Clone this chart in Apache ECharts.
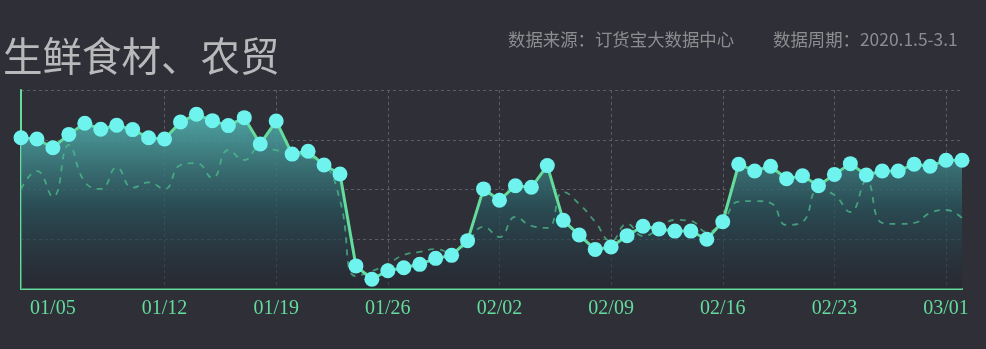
<!DOCTYPE html>
<html><head><meta charset="utf-8">
<script src="https://cdn.jsdelivr.net/npm/echarts@6/dist/echarts.min.js"></script>
<style>html,body{margin:0;padding:0;background:#2f2f38;}#c{width:986px;height:349px;}</style>
</head><body><div id="c"></div>
<script>
const dates = ["01/03","01/04","01/05","01/06","01/07","01/08","01/09","01/10","01/11","01/12",
"01/13","01/14","01/15","01/16","01/17","01/18","01/19","01/20","01/21","01/22",
"01/23","01/24","01/25","01/26","01/27","01/28","01/29","01/30","01/31","02/01",
"02/02","02/03","02/04","02/05","02/06","02/07","02/08","02/09","02/10","02/11",
"02/12","02/13","02/14","02/15","02/16","02/17","02/18","02/19","02/20","02/21",
"02/22","02/23","02/24","02/25","02/26","02/27","02/28","02/29","03/01","03/02"];
const current = [76.0,75.4,71.0,77.7,83.3,80.3,82.3,80.1,76.0,75.4,
83.9,87.8,84.6,82.1,86.1,72.9,84.4,67.8,69.2,62.3,
57.8,11.6,4.9,9.2,10.7,12.4,15.4,16.9,24.3,50.3,
44.6,51.9,51.1,62.0,34.5,27.1,19.9,21.1,26.8,31.5,
30.2,29.1,29.1,25.0,33.8,62.7,59.3,61.7,55.4,56.9,
51.9,57.6,63.0,57.3,59.3,59.3,62.7,61.7,64.7,64.7];
const previous = [50.3,59.3,46.4,72.4,53.8,50.3,61.0,50.9,53.6,50.3,
62.3,63.3,55.8,69.8,64.8,71.4,69.8,68.3,66.3,63.3,
44.7,6.5,9.0,12.6,17.1,18.6,20.1,18.1,23.6,31.2,
26.1,36.2,31.7,30.7,48.7,42.7,33.7,24.1,32.7,26.6,
30.2,34.7,34.2,28.6,34.2,43.9,44.2,43.2,32.2,33.8,
49.7,47.2,38.7,54.3,33.2,32.7,33.2,38.2,39.7,35.7];
const titleText = '生鲜食材、农贸';
const sourceText = '数据来源：订货宝大数据中心';
const periodText = '数据周期：2020.1.5-3.1';

const chart = echarts.init(document.getElementById('c'), null, {renderer:'canvas'});
const green = '#64dc9c';
chart.setOption({
  backgroundColor: '#2f2f38',
  animation: false,
  title: [
    {text: titleText, left: 3, top: 36, padding: 0,
     textStyle: {fontSize: 39.5, fontWeight: 'normal', color: '#b9b9bb', fontFamily: 'Noto Sans CJK SC'}},
    {text: sourceText, left: 508, top: 31, padding: 0,
     textStyle: {fontSize: 17.4, fontWeight: 'normal', color: '#8d8d90', fontFamily: 'Noto Sans CJK SC'}},
    {text: periodText, left: 773, top: 31, padding: 0,
     textStyle: {fontSize: 17.4, fontWeight: 'normal', color: '#8d8d90', fontFamily: 'Noto Sans CJK SC'}}
  ],
  grid: {left: 21, right: 24, top: 90, bottom: 60, containLabel: false},
  xAxis: {
    type: 'category', data: dates, boundaryGap: false,
    axisLine: {show: true, lineStyle: {color: green, width: 2}},
    axisTick: {show: false},
    axisLabel: {
      interval: function (i) { return i % 7 === 2; },
      color: green, fontSize: 20, fontFamily: 'Liberation Serif', margin: 10
    },
    splitLine: {
      show: true,
      interval: function (i) { return i % 7 === 2 && i > 2; },
      lineStyle: {color: '#5c5c64', type: [3, 3], width: 1}
    }
  },
  yAxis: {
    type: 'value', min: 0, max: 100, interval: 25,
    axisLine: {show: true, lineStyle: {color: green, width: 2}},
    axisTick: {show: false},
    axisLabel: {show: false},
    splitLine: {show: true, lineStyle: {color: '#5c5c64', type: [3, 3], width: 1}}
  },
  series: [
    {
      type: 'line', data: current, z: 1, symbol: 'none', silent: true,
      lineStyle: {width: 0},
      areaStyle: {
        opacity: 1,
        color: new echarts.graphic.LinearGradient(0, 0, 0, 1, [
          {offset: 0, color: 'rgba(82,178,176,0.9)'},
          {offset: 0.55, color: 'rgba(40,82,90,0.75)'},
          {offset: 1, color: 'rgba(34,36,46,0.5)'}
        ])
      }
    },
    {
      type: 'line', data: previous, z: 2, smooth: true, symbol: 'none',
      lineStyle: {color: 'rgba(78,196,142,0.7)', width: 1.8, type: [6, 6]}
    },
    {
      type: 'line', data: current, z: 3, symbol: 'circle', symbolSize: 15, showAllSymbol: true,
      lineStyle: {color: green, width: 3},
      itemStyle: {color: '#6ef3ee', borderWidth: 0}
    }
  ]
});
</script></body></html>
